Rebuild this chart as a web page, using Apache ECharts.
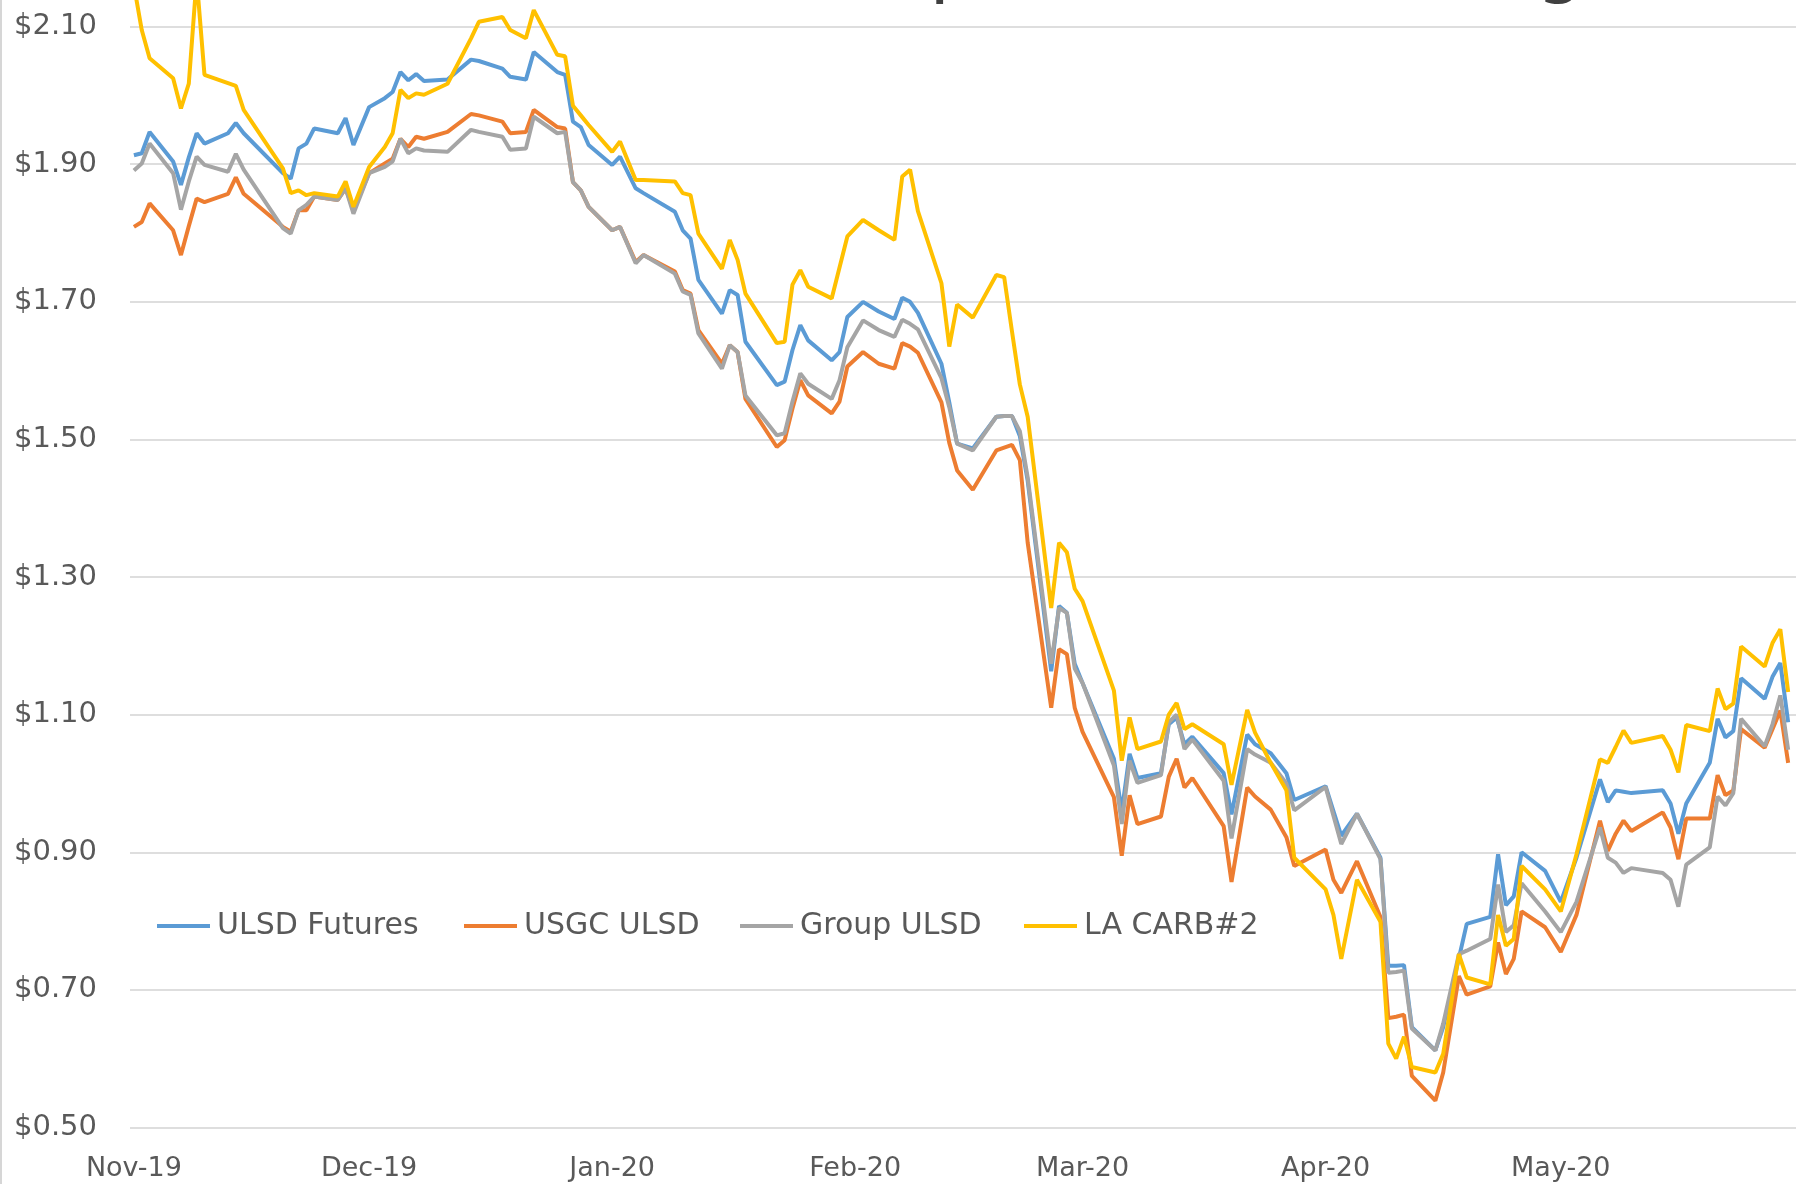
<!DOCTYPE html>
<html>
<head>
<meta charset="utf-8">
<title>ULSD Pricing</title>
<script src="https://cdn.jsdelivr.net/npm/echarts@6.0.0/dist/echarts.min.js"></script>
<style>
    html, body {
        margin: 0;
        padding: 0;
        background: #ffffff;
    }
    #chart {
        width: 1798px;
        height: 1184px;
    }
</style>
</head>
<body>
<div id="chart"></div>
<script>
    // dates of the plotted points (daily prices, $/gal)
    var dates = [
        '2019-11-01', '2019-11-02', '2019-11-03', '2019-11-06', '2019-11-07', '2019-11-08', '2019-11-09', '2019-11-10',
        '2019-11-13', '2019-11-14', '2019-11-15', '2019-11-20', '2019-11-21', '2019-11-22', '2019-11-23', '2019-11-24',
        '2019-11-27', '2019-11-28', '2019-11-29', '2019-12-01', '2019-12-03', '2019-12-04', '2019-12-05', '2019-12-06',
        '2019-12-07', '2019-12-08', '2019-12-11', '2019-12-14', '2019-12-15', '2019-12-18', '2019-12-19', '2019-12-21',
        '2019-12-22', '2019-12-25', '2019-12-26', '2019-12-27', '2019-12-28', '2019-12-29', '2020-01-01', '2020-01-02',
        '2020-01-04', '2020-01-05', '2020-01-09', '2020-01-10', '2020-01-11', '2020-01-12', '2020-01-15', '2020-01-16',
        '2020-01-17', '2020-01-18', '2020-01-22', '2020-01-23', '2020-01-24', '2020-01-25', '2020-01-26', '2020-01-29',
        '2020-01-30', '2020-01-31', '2020-02-02', '2020-02-04', '2020-02-06', '2020-02-07', '2020-02-08', '2020-02-09',
        '2020-02-12', '2020-02-13', '2020-02-14', '2020-02-16', '2020-02-19', '2020-02-20', '2020-02-21', '2020-02-22',
        '2020-02-23', '2020-02-26', '2020-02-27', '2020-02-28', '2020-02-29', '2020-03-01', '2020-03-05', '2020-03-06',
        '2020-03-07', '2020-03-08', '2020-03-11', '2020-03-12', '2020-03-13', '2020-03-14', '2020-03-15', '2020-03-19',
        '2020-03-20', '2020-03-22', '2020-03-23', '2020-03-25', '2020-03-27', '2020-03-28', '2020-04-01', '2020-04-02',
        '2020-04-03', '2020-04-05', '2020-04-08', '2020-04-09', '2020-04-10', '2020-04-11', '2020-04-12', '2020-04-15',
        '2020-04-16', '2020-04-18', '2020-04-19', '2020-04-22', '2020-04-23', '2020-04-24', '2020-04-25', '2020-04-26',
        '2020-04-29', '2020-05-01', '2020-05-03', '2020-05-06', '2020-05-07', '2020-05-08', '2020-05-09', '2020-05-10',
        '2020-05-14', '2020-05-15', '2020-05-16', '2020-05-17', '2020-05-20', '2020-05-21', '2020-05-22', '2020-05-23',
        '2020-05-24', '2020-05-27', '2020-05-28', '2020-05-29', '2020-05-30'
    ];

    var ulsdFutures = [
        1.913, 1.916, 1.947, 1.904, 1.870, 1.910, 1.945, 1.930,
        1.945, 1.960, 1.945, 1.887, 1.879, 1.923, 1.930, 1.952,
        1.945, 1.967, 1.928, 1.983, 1.996, 2.005, 2.034, 2.022,
        2.031, 2.021, 2.023, 2.052, 2.050, 2.039, 2.027, 2.023,
        2.063, 2.034, 2.030, 1.962, 1.954, 1.928, 1.899, 1.911,
        1.865, 1.858, 1.831, 1.804, 1.792, 1.732, 1.683, 1.717,
        1.710, 1.642, 1.579, 1.584, 1.630, 1.666, 1.644, 1.615,
        1.627, 1.678, 1.700, 1.686, 1.675, 1.706, 1.700, 1.684,
        1.610, 1.554, 1.494, 1.487, 1.533, 1.534, 1.534, 1.505,
        1.440, 1.163, 1.258, 1.248, 1.174, 1.146, 1.036, 0.959,
        1.043, 1.008, 1.015, 1.086, 1.096, 1.057, 1.068, 1.015,
        0.955, 1.071, 1.057, 1.044, 1.015, 0.976, 0.996, 0.960,
        0.924, 0.956, 0.892, 0.735, 0.735, 0.736, 0.646, 0.612,
        0.646, 0.746, 0.796, 0.806, 0.897, 0.823, 0.836, 0.900,
        0.873, 0.828, 0.892, 1.006, 0.973, 0.990, 0.988, 0.986,
        0.990, 0.971, 0.927, 0.971, 1.030, 1.094, 1.067, 1.076,
        1.153, 1.123, 1.155, 1.175, 1.089
    ];

    var usgcUlsd = [
        1.809, 1.816, 1.843, 1.804, 1.768, 1.810, 1.850, 1.845,
        1.857, 1.881, 1.857, 1.809, 1.802, 1.833, 1.833, 1.853,
        1.848, 1.865, 1.833, 1.887, 1.901, 1.908, 1.937, 1.925,
        1.940, 1.937, 1.947, 1.973, 1.971, 1.962, 1.945, 1.947,
        1.979, 1.954, 1.952, 1.874, 1.862, 1.838, 1.804, 1.809,
        1.758, 1.768, 1.744, 1.717, 1.712, 1.659, 1.610, 1.637,
        1.627, 1.559, 1.489, 1.499, 1.545, 1.586, 1.564, 1.538,
        1.555, 1.606, 1.627, 1.610, 1.603, 1.640, 1.635, 1.626,
        1.554, 1.495, 1.455, 1.427, 1.484, 1.488, 1.492, 1.470,
        1.350, 1.110, 1.195, 1.188, 1.110, 1.075, 0.980, 0.895,
        0.983, 0.941, 0.952, 1.010, 1.036, 0.994, 1.008, 0.938,
        0.857, 0.994, 0.981, 0.962, 0.922, 0.880, 0.904, 0.860,
        0.841, 0.887, 0.806, 0.659, 0.661, 0.664, 0.575, 0.539,
        0.580, 0.720, 0.693, 0.705, 0.769, 0.723, 0.745, 0.814,
        0.791, 0.755, 0.809, 0.946, 0.902, 0.927, 0.946, 0.931,
        0.958, 0.936, 0.890, 0.949, 0.949, 1.012, 0.983, 0.990,
        1.079, 1.052, 1.079, 1.106, 1.030
    ];

    var groupUlsd = [
        1.891, 1.901, 1.930, 1.887, 1.834, 1.875, 1.911, 1.899,
        1.889, 1.915, 1.892, 1.807, 1.799, 1.833, 1.841, 1.853,
        1.848, 1.865, 1.828, 1.887, 1.896, 1.904, 1.937, 1.916,
        1.923, 1.920, 1.918, 1.950, 1.947, 1.940, 1.921, 1.923,
        1.969, 1.945, 1.947, 1.874, 1.862, 1.838, 1.804, 1.809,
        1.756, 1.768, 1.741, 1.715, 1.710, 1.654, 1.603, 1.637,
        1.627, 1.564, 1.506, 1.509, 1.555, 1.596, 1.581, 1.559,
        1.586, 1.634, 1.673, 1.659, 1.649, 1.674, 1.668, 1.660,
        1.589, 1.547, 1.494, 1.484, 1.533, 1.534, 1.534, 1.512,
        1.445, 1.174, 1.255, 1.248, 1.167, 1.146, 1.026, 0.941,
        1.033, 1.001, 1.012, 1.089, 1.100, 1.050, 1.064, 1.004,
        0.920, 1.050, 1.042, 1.030, 1.000, 0.961, 0.995, 0.953,
        0.912, 0.956, 0.890, 0.725, 0.726, 0.728, 0.644, 0.612,
        0.651, 0.752, 0.757, 0.774, 0.853, 0.784, 0.794, 0.855,
        0.814, 0.784, 0.828, 0.936, 0.892, 0.885, 0.870, 0.877,
        0.870, 0.860, 0.821, 0.882, 0.907, 0.981, 0.968, 0.986,
        1.094, 1.054, 1.086, 1.128, 1.049
    ];

    var laCarb2 = [
        2.160, 2.095, 2.054, 2.025, 1.981, 2.017, 2.170, 2.030,
        2.018, 2.014, 1.979, 1.894, 1.858, 1.862, 1.855, 1.858,
        1.853, 1.875, 1.838, 1.896, 1.925, 1.945, 2.008, 1.996,
        2.003, 2.001, 2.017, 2.083, 2.107, 2.114, 2.095, 2.083,
        2.124, 2.059, 2.057, 1.985, 1.971, 1.957, 1.918, 1.933,
        1.877, 1.877, 1.875, 1.858, 1.855, 1.799, 1.748, 1.790,
        1.761, 1.712, 1.640, 1.642, 1.725, 1.746, 1.722, 1.705,
        1.750, 1.795, 1.819, 1.804, 1.790, 1.882, 1.892, 1.832,
        1.727, 1.635, 1.696, 1.677, 1.739, 1.736, 1.657, 1.580,
        1.533, 1.255, 1.350, 1.336, 1.283, 1.265, 1.135, 1.033,
        1.096, 1.050, 1.061, 1.100, 1.117, 1.079, 1.086, 1.057,
        0.998, 1.107, 1.074, 1.030, 0.990, 0.892, 0.846, 0.809,
        0.745, 0.860, 0.799, 0.622, 0.600, 0.632, 0.588, 0.580,
        0.607, 0.752, 0.718, 0.708, 0.809, 0.764, 0.774, 0.880,
        0.846, 0.814, 0.897, 1.035, 1.030, 1.053, 1.077, 1.059,
        1.069, 1.049, 1.016, 1.085, 1.076, 1.138, 1.108, 1.116,
        1.199, 1.170, 1.204, 1.224, 1.133
    ];

    var seriesNames = ['ULSD Futures', 'USGC ULSD', 'Group ULSD', 'LA CARB#2'];
    var seriesColors = ['#5b9bd5', '#ed7d31', '#a5a5a5', '#ffc000'];
    var monthLabels = ['Nov-19', 'Dec-19', 'Jan-20', 'Feb-20', 'Mar-20', 'Apr-20', 'May-20'];

    function toTime(s) {
        var p = s.split('-');
        return new Date(+p[0], +p[1] - 1, +p[2]).getTime();
    }

    function pairs(values) {
        return dates.map(function (d, i) {
            return [toTime(d), values[i]];
        });
    }

    var chart = echarts.init(document.getElementById('chart'), null, {renderer: 'canvas'});

    var labelFont = 'DejaVu Sans';
    var allValues = [ulsdFutures, usgcUlsd, groupUlsd, laCarb2];
    var DAY = 24 * 3600 * 1000;

    var series = allValues.map(function (vals, i) {
        return {
            name: seriesNames[i],
            type: 'line',
            data: pairs(vals),
            showSymbol: false,
            symbol: 'none',
            lineStyle: {width: 4, color: seriesColors[i]},
            itemStyle: {color: seriesColors[i]},
            z: 2 + i
        };
    });

    // one legend per item so each sits where it does in the picture
    var legendLefts = [157, 464, 740, 1024];
    var legends = seriesNames.map(function (name, i) {
        return {
            data: [name],
            left: legendLefts[i],
            top: 911,
            padding: 0,
            icon: 'rect',
            itemWidth: 53,
            itemHeight: 4,
            itemGap: 0,
            textStyle: {fontFamily: labelFont, fontSize: 30, color: '#595959', padding: [0, 0, 0, 2]}
        };
    });

    var option = {
        backgroundColor: '#ffffff',
        animation: false,
        grid: {
            left: 130,
            right: 2,
            top: -111,
            bottom: 56.5,
            outerBoundsMode: 'none',
            containLabel: false
        },
        legend: legends,
        xAxis: {
            type: 'time',
            min: new Date(2019, 9, 31, 12).getTime(),
            max: new Date(2020, 4, 31).getTime(),
            minInterval: 28 * DAY,
            maxInterval: 31 * DAY,
            axisLine: {show: false},
            axisTick: {show: false},
            splitLine: {show: false},
            axisLabel: {
                formatter: function (v) {
                    var d = new Date(v);
                    if (d.getDate() !== 1 || d.getHours() !== 0) {
                        return '';
                    }
                    var idx = (d.getFullYear() - 2019) * 12 + d.getMonth() - 10;
                    return monthLabels[idx] || '';
                },
                fontFamily: labelFont,
                fontSize: 27,
                color: '#595959',
                margin: 28,
                showMinLabel: false,
                showMaxLabel: false,
                hideOverlap: false
            }
        },
        yAxis: {
            type: 'value',
            min: 0.5,
            max: 2.3,
            interval: 0.2,
            axisLine: {show: false},
            axisTick: {show: false},
            splitLine: {lineStyle: {color: '#dedede', width: 2}},
            axisLabel: {
                formatter: function (v) {
                    return '$' + v.toFixed(2);
                },
                fontFamily: labelFont,
                fontSize: 29,
                color: '#595959',
                margin: 33
            }
        },
        graphic: [
            {
                // left border of the chart area
                type: 'rect',
                shape: {x: 0, y: 0, width: 2, height: 1184},
                style: {fill: '#d6d6d6'},
                silent: true
            },
            {
                // title, cut off by the top edge
                type: 'text',
                left: 882,
                top: -69,
                style: {
                    text: 'Spot Diesel Pricing',
                    font: '75px "DejaVu Sans"',
                    fill: '#404040'
                },
                silent: true
            }
        ],
        series: series
    };

    chart.setOption(option);
</script>
</body>
</html>
